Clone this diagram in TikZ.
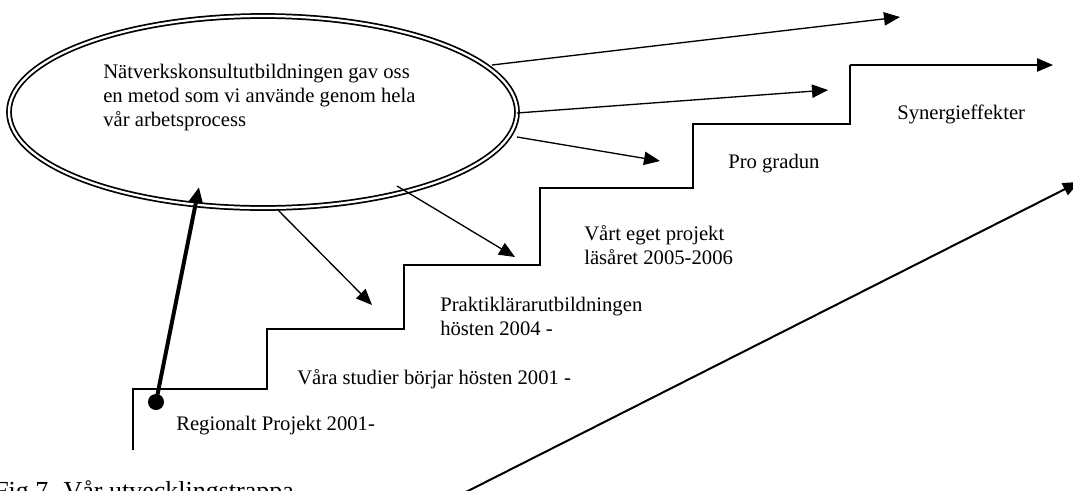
\documentclass[tikz,border=0pt]{standalone}
\usepackage{fontspec}
\setmainfont{Liberation Serif}
\usetikzlibrary{arrows.meta,shapes.geometric}
\begin{document}
\begin{tikzpicture}[x=0.75pt,y=-0.75pt,
  conn/.style={line width=1pt,-{Triangle[length=12pt,width=10pt]}},
  stair/.style={line width=1.1pt},
  lbl/.style={anchor=base west,inner sep=0pt,font=\fontsize{15.5}{18}\selectfont},
  ]
\useasboundingbox (0,0) rectangle (1073,490);
\clip (0,0) rectangle (1073,490);
% ellipse
\node[ellipse, draw, double, line width=1.3pt, double distance=1.7pt,
      minimum width=381pt, minimum height=144pt, inner sep=0pt] (ell) at (263,112) {};
\node[lbl] (e1) at (103,78) {Nätverkskonsultutbildningen gav oss};
\node[lbl] (e2) at (103,102) {en metod som vi använde genom hela};
\node[lbl] (e3) at (103,126) {vår arbetsprocess};
% labels
\node[lbl] (syn) at (897,119) {Synergieffekter};
\node[lbl] (pro) at (728,168) {Pro gradun};
\node[lbl] (v1) at (584,240) {Vårt eget projekt};
\node[lbl] (v2) at (584,264) {läsåret 2005-2006};
\node[lbl] (p1) at (440,311) {Praktiklärarutbildningen};
\node[lbl] (p2) at (440,335) {hösten 2004 -};
\node[lbl] (st) at (297,384) {Våra studier börjar hösten 2001 -};
\node[lbl] (reg) at (176,430) {Regionalt Projekt 2001-};
\node[anchor=base west,inner sep=0pt,font=\fontsize{19.5}{23}\selectfont] (cap) at (-6,499) {Fig 7. Vår utvecklingstrappa};
% staircase
\coordinate (s0) at (133,450);
\coordinate (s1) at (133,389);
\coordinate (s2) at (267,389);
\coordinate (s3) at (267,329);
\coordinate (s4) at (404,329);
\coordinate (s5) at (404,265);
\coordinate (s6) at (540,265);
\coordinate (s7) at (540,188);
\coordinate (s8) at (693,188);
\coordinate (s9) at (693,124);
\coordinate (s10) at (850,124);
\coordinate (s11) at (850,65);
\coordinate (s12) at (1053,65);
\draw[stair] (s0) -- (s1) -- (s2) -- (s3) -- (s4) -- (s5) -- (s6) -- (s7) -- (s8) -- (s9) -- (s10) -- (s11);
\draw[conn,line width=1.1pt] (s11) -- (s12);
% arrows from ellipse
\coordinate (a1s) at (492,65);  \coordinate (a1e) at (900,17);
\coordinate (a2s) at (517,113); \coordinate (a2e) at (828,90);
\coordinate (a3s) at (517,137); \coordinate (a3e) at (660,161);
\coordinate (a4s) at (397,186); \coordinate (a4e) at (515,257);
\coordinate (a5s) at (277,209); \coordinate (a5e) at (372,305);
\draw[conn] (a1s) -- (a1e);
\draw[conn] (a2s) -- (a2e);
\draw[conn] (a3s) -- (a3e);
\draw[conn] (a4s) -- (a4e);
\draw[conn] (a5s) -- (a5e);
% thick arrow with dot
\node[circle, fill=black, minimum size=12pt, inner sep=0pt] (dot) at (156,402) {};
\coordinate (tk) at (199,187);
\draw[line width=3pt,-{Triangle[length=12pt,width=10pt]}] (dot.center) -- (tk);
% long bottom arrow
\coordinate (b0) at (460,495);
\coordinate (b1) at (1079,182);
\draw[line width=1.5pt,-{Triangle[length=12pt,width=10pt]}] (b0) -- (b1);
\end{tikzpicture}
\end{document}
